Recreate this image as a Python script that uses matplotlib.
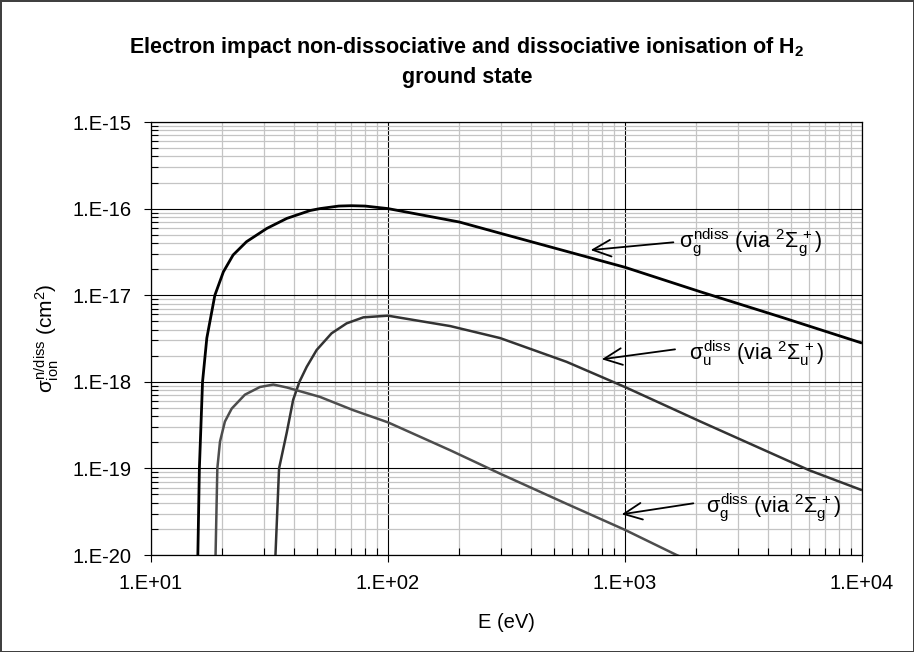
import matplotlib
matplotlib.use("Agg")
import matplotlib.pyplot as plt
from matplotlib.ticker import LogLocator, FuncFormatter, NullFormatter
import numpy as np

plt.rcParams['font.family'] = ['Liberation Sans', 'DejaVu Sans']
plt.rcParams['mathtext.fontset'] = 'custom'
plt.rcParams['mathtext.rm'] = 'Liberation Sans'
plt.rcParams['mathtext.it'] = 'Liberation Sans'
plt.rcParams['mathtext.bf'] = 'Liberation Sans:bold'

# ---- data ----
E_ndiss = [15.6, 16.0, 16.5, 17.2, 18.6, 20.2, 22.2, 25.3, 30.8, 37.4, 46.9, 51.6, 62, 70, 80, 100,
           200, 297, 1000, 2070, 4640, 10000]
S_ndiss = [2e-21, 1e-19, 1e-18, 3.2e-18, 1e-17, 1.86e-17, 2.91e-17, 4.15e-17, 5.9e-17, 7.7e-17,
           9.5e-17, 1.0e-16, 1.07e-16, 1.08e-16, 1.07e-16, 1.0e-16,
           7.0e-17, 5.2e-17, 2.1e-17, 1.1e-17, 5.5e-18, 2.8e-18]

E_udiss = [32.7, 34.7, 37.4, 39.8, 42.3, 45.4, 50.0, 57.8, 66.9, 78.7, 100, 183, 297, 567, 1000,
           2070, 6000, 10000]
S_udiss = [2e-21, 1e-19, 2.6e-19, 6.2e-19, 1e-18, 1.49e-18, 2.33e-18, 3.63e-18, 4.73e-18, 5.55e-18,
           5.8e-18, 4.4e-18, 3.2e-18, 1.7e-18, 8.7e-19, 3.5e-19, 9.5e-20, 5.6e-20]

E_gdiss = [18.5, 19.05, 19.55, 20.5, 21.9, 24.9, 28.8, 32.8, 37.4, 51.6, 71.4, 100, 183, 297, 567,
           1000, 1650, 2000]
S_gdiss = [2e-21, 1e-19, 2.04e-19, 3.47e-19, 4.9e-19, 7.1e-19, 8.7e-19, 9.3e-19, 8.6e-19, 6.7e-19,
           4.7e-19, 3.4e-19, 1.62e-19, 8.7e-20, 3.9e-20, 1.95e-20, 1.0e-20, 8.0e-21]

labels = [r'$\sigma_g^{ndiss}$ (via $^2\Sigma_g^{\,+}$)',
          r'$\sigma_u^{diss}$ (via $^2\Sigma_u^{\,+}$)',
          r'$\sigma_g^{diss}$ (via $^2\Sigma_g^{\,+}$)']
arrow_tip = [(716, 3.32e-17), (798, 1.82e-18), (968, 2.95e-20)]
arrow_tail = [(1600, 4.08e-17), (1626, 2.37e-18), (1942, 3.95e-20)]
text_pos = [(1690, 4.0e-17), (1870, 2.15e-18), (2190, 3.53e-20)]

xticks = [10, 100, 1000, 10000]
yticks = [1e-20, 1e-19, 1e-18, 1e-17, 1e-16, 1e-15]

# ---- figure ----
fig = plt.figure(figsize=(9.14, 6.52), dpi=100)
fig.patch.set_facecolor('white')
fig.patch.set_edgecolor('#404040')
fig.patch.set_linewidth(2.0)

ax = fig.add_axes([151/914, 1-555/652, (862-151)/914, (555-122)/652])
ax.set_xscale('log')
ax.set_yscale('log')
ax.set_xlim(10, 1e4)
ax.set_ylim(1e-20, 1e-15)

ax.xaxis.set_minor_locator(LogLocator(base=10, subs=np.arange(2, 10), numticks=20))
ax.yaxis.set_minor_locator(LogLocator(base=10, subs=np.arange(2, 10), numticks=20))
ax.xaxis.set_minor_formatter(NullFormatter())
ax.yaxis.set_minor_formatter(NullFormatter())

def fmt(v, pos):
    e = int(round(np.log10(v)))
    return "1.E%s%02d" % ('+' if e >= 0 else '-', abs(e))
ax.set_xticks(xticks)
ax.set_yticks(yticks)
ax.xaxis.set_major_formatter(FuncFormatter(fmt))
ax.yaxis.set_major_formatter(FuncFormatter(fmt))

ax.grid(which='minor', color='#c4c4c4', linewidth=0.9)
ax.grid(which='major', color='#000000', linewidth=0.8)
ax.set_axisbelow(True)

ax.tick_params(which='major', direction='out', length=5, width=0.8, labelsize=14.5, color='black')
ax.tick_params(axis='y', which='major', pad=9)
ax.tick_params(axis='x', which='major', pad=9)
ax.tick_params(which='minor', direction='in', length=5, width=0.8, color='black')
for s in ax.spines.values():
    s.set_color('black')
    s.set_linewidth(0.9)

ax.plot(E_ndiss, S_ndiss, color='#000000', lw=2.0, solid_capstyle='butt')
ax.plot(E_udiss, S_udiss, color='#333333', lw=1.8, solid_capstyle='butt')
ax.plot(E_gdiss, S_gdiss, color='#4d4d4d', lw=1.8, solid_capstyle='butt')

for lab, tip, tail, tp in zip(labels, arrow_tip, arrow_tail, text_pos):
    ax.annotate('', xy=tip, xytext=tail,
                arrowprops=dict(arrowstyle='->,head_length=1.3,head_width=0.6', color='black', lw=1.3,
                                shrinkA=0, shrinkB=0))
    ax.text(tp[0], tp[1], lab, fontsize=15.5, ha='left', va='center', color='black')

ax.set_xlabel('E (eV)', fontsize=14.5, labelpad=14)
ax.set_ylabel(r'$\sigma_{ion}^{n/diss}$ (cm$^2$)', fontsize=15, labelpad=8)

fig.text(467/914, 1 - 47/652,
         r'Electron impact non-dissociative and dissociative ionisation of H$_\mathbf{2}$',
         ha='center', va='center', fontsize=15.5, fontweight='bold')
fig.text(467/914, 1 - 77/652, 'ground state',
         ha='center', va='center', fontsize=15.5, fontweight='bold')

fig.savefig('out.png', dpi=100, facecolor=fig.get_facecolor(), edgecolor=fig.get_edgecolor())
